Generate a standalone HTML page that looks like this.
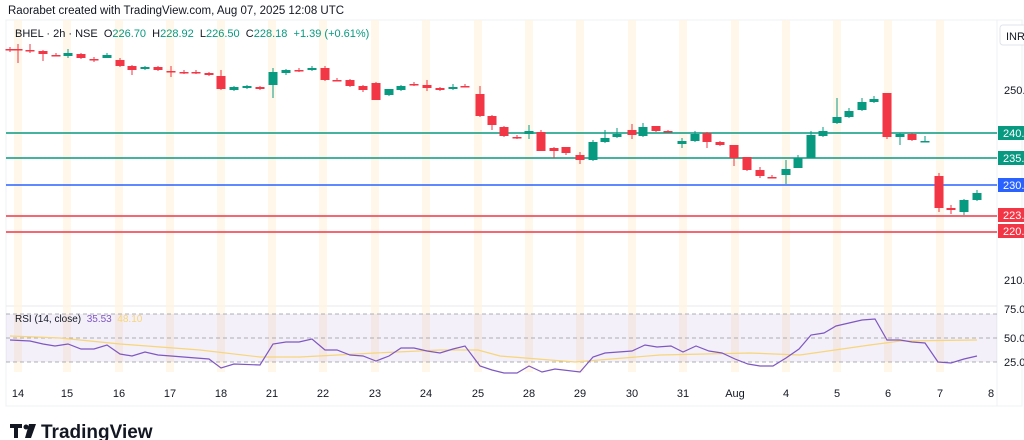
<!DOCTYPE html>
<html><head><meta charset="utf-8"><style>
body{margin:0;width:1024px;height:440px;background:#fff;overflow:hidden;font-family:"Liberation Sans",sans-serif;}
svg{position:absolute;left:0;top:0}
</style></head><body>
<svg id="s" width="1024" height="440" xmlns="http://www.w3.org/2000/svg" font-family="Liberation Sans, sans-serif">
<text x="8" y="14" font-size="11.5" fill="#131722">Raorabet created with TradingView.com, Aug 07, 2025 12:08 UTC</text>
<rect x="6" y="20" width="1016" height="386" fill="none" stroke="#eef0f3"/>
<line x1="6" y1="306" x2="997" y2="306" stroke="#e8e8ee"/>
<line x1="997" y1="20" x2="997" y2="406" stroke="#eef0f3"/>
<g id="bands"></g>
<rect x="6" y="314" width="991" height="48" fill="#7e57c2" fill-opacity="0.09"/>
<g stroke="#9598a1" stroke-dasharray="4,3" stroke-width="0.8">
<line x1="6" y1="314" x2="997" y2="314"/><line x1="6" y1="338" x2="997" y2="338"/><line x1="6" y1="362" x2="997" y2="362"/></g>
<g stroke-width="1.6">
<line x1="6" y1="133" x2="997" y2="133" stroke="#089981"/>
<line x1="6" y1="158" x2="997" y2="158" stroke="#089981"/>
<line x1="6" y1="185" x2="997" y2="185" stroke="#2962ff"/>
<line x1="6" y1="216" x2="997" y2="216" stroke="#f23645"/>
<line x1="6" y1="232" x2="997" y2="232" stroke="#f23645"/></g>
<g id="c"></g>
<polyline id="ma" fill="none" stroke="#f7d57a" stroke-width="1.2"/>
<polyline id="rsi" fill="none" stroke="#7e57c2" stroke-width="1.2"/>
<text x="15" y="37" font-size="11" fill="#131722" xml:space="preserve">BHEL · 2h · NSE  O<tspan fill="#089981">226.70</tspan>  H<tspan fill="#089981">228.92</tspan>  L<tspan fill="#089981">226.50</tspan>  C<tspan fill="#089981">228.18</tspan>  <tspan fill="#089981">+1.39 (+0.61%)</tspan></text>
<text x="15" y="322" font-size="10" fill="#131722" xml:space="preserve">RSI (14, close)  <tspan fill="#7e57c2">35.53</tspan>  <tspan fill="#f7d57a">48.10</tspan></text>
<rect x="1000" y="25" width="30" height="20" rx="3" fill="#fff" stroke="#e0e3eb"/>
<text x="1006" y="40" font-size="11" fill="#131722">INR</text>
<g font-size="11" fill="#131722">
<text x="1004" y="94">250.</text><text x="1004" y="284">210.</text>
<text x="1004" y="313">75.0</text><text x="1004" y="342">50.0</text><text x="1004" y="366">25.0</text></g>
<g font-size="11" fill="#fff">
<rect x="998" y="126" width="26" height="14" fill="#089981"/><text x="1003" y="137">240.</text>
<rect x="998" y="151" width="26" height="14" fill="#089981"/><text x="1003" y="162">235.</text>
<rect x="998" y="178" width="26" height="14" fill="#2962ff"/><text x="1003" y="189">230.</text>
<rect x="998" y="208" width="26" height="14" fill="#f23645"/><text x="1003" y="219">223.</text>
<rect x="998" y="224" width="26" height="14" fill="#f23645"/><text x="1003" y="235">220.</text></g>
<g id="days" font-size="11" fill="#131722" text-anchor="middle"></g>
<rect x="10" y="424" width="12" height="4" fill="#131722"/><rect x="14" y="424" width="4" height="14" fill="#131722"/>
<circle cx="26" cy="427" r="2.5" fill="#131722"/><polygon points="29,424 36,424 31,438 25,438" fill="#131722"/>
<text x="41" y="438" font-size="19" font-weight="bold" fill="#131722">TradingView</text>
</svg>
<script>
var NS="http://www.w3.org/2000/svg";
function el(p,t,a){var e=document.createElementNS(NS,t);for(var k in a)e.setAttribute(k,a[k]);document.getElementById(p).appendChild(e);return e;}
var days=[["14",18],["15",67],["16",119],["17",170],["18",221],["21",272],["22",323],["23",375],["24",426],["25",478],["28",529],["29",580],["30",632],["31",683],["Aug",735],["4",786],["5",837],["6",888],["7",940],["8",991]];
days.forEach(function(d){ if(d[0]!="8") el("bands","rect",{x:d[1]-4,y:20,width:8,height:352,fill:"#fff3e0",opacity:0.7});
 var t=el("days","text",{x:d[1],y:397});t.textContent=d[0];});
var C=[[10,49,49,47,52],[18,49,49,44,63],[30,50,50,44,53],[43,51,54,50,61],[56,55,55,53,56],
[68,56,53,49,58],[81,54,58,53,59],[94,59,59,57,62],[107,58,55,53,58],
[120,60,66,58,67],[132,66,70,65,75],[145,69,67,66,70],[158,67,70,66,71],
[171,71,71,66,77],[184,72,72,70,74],[196,72,72,70,74],[209,73,75,72,76],
[221,76,89,70,90],[234,90,87,86,91],[247,88,86,85,89],[260,87,89,86,90],
[273,85,72,68,98],[286,73,70,69,75],[299,70,70,68,72],[312,70,68,66,71],
[325,68,80,66,81],[337,80,80,78,81],[350,80,86,79,87],[363,86,90,85,92],
[376,83,100,82,100],[389,95,89,89,96],[401,90,86,85,91],[414,84,84,82,86],
[427,85,88,80,91],[440,88,90,87,91],[453,89,87,84,90],[465,86,86,84,87],
[480,94,116,86,117],[492,116,125,115,130],[504,127,136,126,137],[517,137,137,135,139],
[529,134,131,125,139],[541,132,151,130,151],[554,148,151,147,158],[566,147,153,147,155],
[580,155,160,152,164],[593,160,142,140,161],[605,142,138,130,143],[617,137,134,128,138],
[632,130,135,124,139],[643,136,127,123,137],[656,126,131,126,132],[668,131,131,130,132],
[682,144,141,138,148],[695,141,134,131,142],[707,133,142,132,148],[720,142,145,141,146],
[734,145,158,145,166],[747,157,170,157,171],[760,170,176,167,178],[772,177,177,175,178],
[786,175,169,160,184],[798,168,158,155,168],[811,158,135,131,158],[823,136,131,127,137],
[837,123,117,98,124],[849,117,111,108,118],[862,110,102,98,111],[874,102,99,96,103],
[887,93,137,93,139],[900,137,134,133,145],[912,134,140,133,141],[925,142,141,136,142],
[939,176,208,173,212],[951,208,210,205,214],[964,212,200,199,215],[977,200,193,190,201]];
C.forEach(function(c){var up=c[2]<c[1];var col=up?"#089981":"#f23645";
 el("c","line",{x1:c[0],x2:c[0],y1:c[3],y2:c[4],stroke:col,"stroke-width":1});
 var t=Math.min(c[1],c[2]),h=Math.max(1.5,Math.abs(c[2]-c[1]));
 el("c","rect",{x:c[0]-4.5,y:t,width:9,height:h,fill:col});});
var R="10,340 30,341 43,344 55,346 68,344 81,349 94,349 107,345 120,354 132,356 145,352 158,355 171,356 196,358 209,359 221,368 234,364 260,365 273,344 286,342 299,342 312,339 325,350 337,350 350,355 363,356 376,361 389,356 401,348 414,348 427,351 440,353 453,349 465,346 480,366 492,370 504,373 517,373 529,366 542,372 555,369 580,372 593,357 605,353 632,351 645,345 657,347 671,346 683,352 696,346 709,351 722,353 735,359 748,364 760,366 773,366 786,358 799,349 811,335 824,333 836,326 849,323 862,320 875,319 887,340 900,340 912,342 925,343 938,362 951,363 964,359 977,356";
document.getElementById("rsi").setAttribute("points",R);
document.getElementById("ma").setAttribute("points","10,336 60,338 120,344 200,350 260,357 300,357 375,353 440,350 478,350 500,356 575,362 660,355 750,353 800,355 870,345 900,341 977,340");
</script>
</body></html>
